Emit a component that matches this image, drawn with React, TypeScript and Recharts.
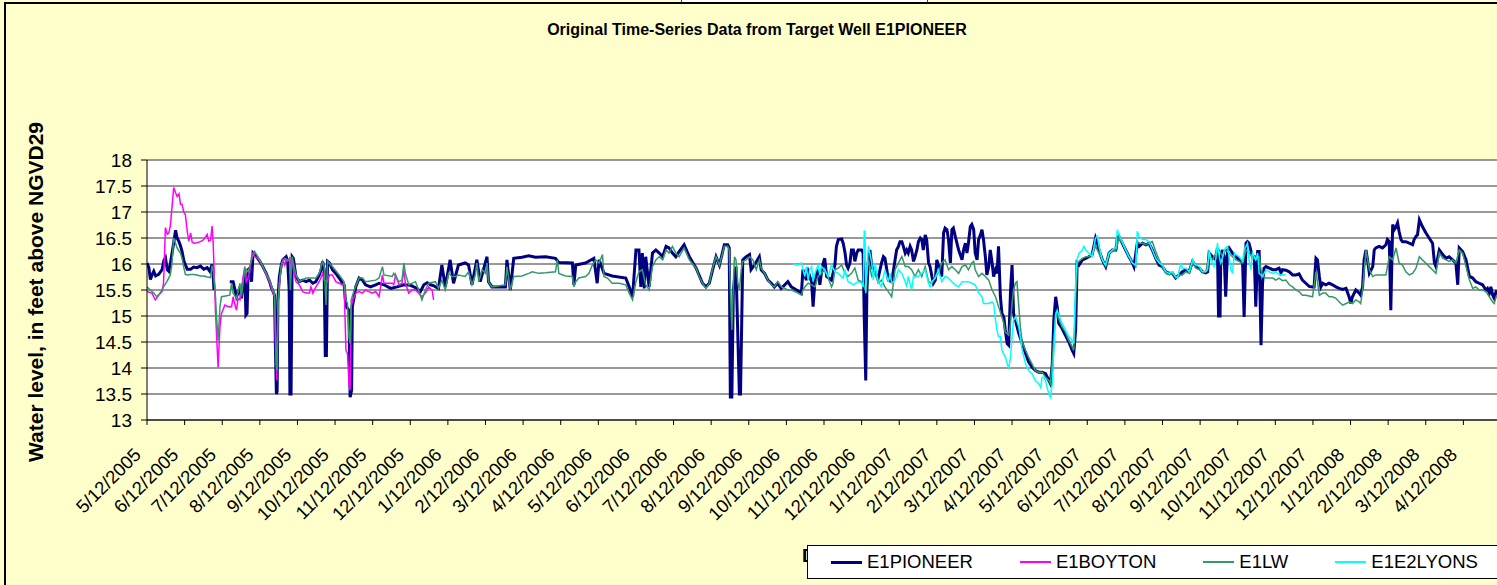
import { CartesianGrid, Line, LineChart, XAxis, YAxis } from "recharts";

type Pt = [number, number | null];

const FONT = "'Liberation Sans', Arial, sans-serif";

// x = months after 5/12/2005 (the axis is spaced evenly by month)
const monthLabels = [
  "5/12/2005", "6/12/2005", "7/12/2005", "8/12/2005", "9/12/2005", "10/12/2005",
  "11/12/2005", "12/12/2005", "1/12/2006", "2/12/2006", "3/12/2006", "4/12/2006",
  "5/12/2006", "6/12/2006", "7/12/2006", "8/12/2006", "9/12/2006", "10/12/2006",
  "11/12/2006", "12/12/2006", "1/12/2007", "2/12/2007", "3/12/2007", "4/12/2007",
  "5/12/2007", "6/12/2007", "7/12/2007", "8/12/2007", "9/12/2007", "10/12/2007",
  "11/12/2007", "12/12/2007", "1/12/2008", "2/12/2008", "3/12/2008", "4/12/2008",
];
const monthTicks = monthLabels.map((_, i) => i);
const levelTicks = [13, 13.5, 14, 14.5, 15, 15.5, 16, 16.5, 17, 17.5, 18];

const e1Pioneer: Pt[] = [
  [0, 16.02], [0.05, 15.93], [0.09, 15.7], [0.14, 15.8], [0.18, 15.86], [0.23, 15.77], [0.31, 15.8],
  [0.4, 15.89], [0.45, 16.07], [0.49, 16.12], [0.54, 15.89], [0.58, 15.86], [0.62, 16.0], [0.71, 16.41],
  [0.76, 16.65], [0.8, 16.5], [0.85, 16.43], [0.89, 16.35], [0.93, 16.25], [0.98, 16.06], [1.07, 15.9],
  [1.16, 15.9], [1.24, 15.94], [1.33, 15.93], [1.42, 15.96], [1.51, 15.9], [1.6, 15.93], [1.67, 15.86],
  [1.73, 15.99], [1.76, 15.8], [1.78, 15.5], [2.0, null],
  [2.2, 15.66], [2.29, 15.66], [2.38, 15.37], [2.42, 15.44], [2.47, 15.56], [2.51, 15.34], [2.56, 15.63],
  [2.6, 15.82], [2.63, 15.02], [2.66, 15.05], [2.69, 15.89], [2.73, 15.92], [2.78, 15.66], [2.82, 16.21],
  [2.91, 16.14], [3.0, 16.05], [3.08, 15.95], [3.17, 15.82], [3.26, 15.66], [3.3, 15.56], [3.35, 15.47],
  [3.39, 15.4], [3.42, 14.2], [3.44, 13.5], [3.46, 13.55], [3.48, 15.31], [3.52, 15.76], [3.57, 15.98],
  [3.61, 16.08], [3.7, 16.14], [3.74, 16.05], [3.78, 15.5], [3.8, 13.5], [3.83, 13.5], [3.86, 16.14],
  [3.89, 16.11], [3.96, 15.76], [4.05, 15.66], [4.14, 15.69], [4.23, 15.66], [4.32, 15.69], [4.41, 15.63],
  [4.49, 15.66], [4.58, 15.79], [4.63, 15.89], [4.67, 16.05], [4.71, 15.89], [4.74, 14.24], [4.77, 14.24],
  [4.8, 16.05], [4.85, 16.02], [4.93, 15.89], [5.02, 15.82], [5.11, 15.73], [5.2, 15.63], [5.24, 15.6],
  [5.29, 15.18], [5.33, 15.15], [5.37, 15.11], [5.4, 13.44], [5.44, 13.57], [5.46, 15.18], [5.51, 15.37],
  [5.55, 15.56], [5.64, 15.73], [5.73, 15.69], [5.81, 15.6], [5.94, 15.56], [6.08, 15.6], [6.17, 15.63],
  [6.3, 15.6], [6.48, 15.53], [6.65, 15.56], [6.83, 15.6], [7.01, 15.59], [7.18, 15.53], [7.27, 15.47],
  [7.36, 15.6], [7.45, 15.64], [7.54, 15.6], [7.63, 15.58],
  [7.75, 15.53], [7.84, 15.98], [7.93, 15.56], [8.06, 16.08], [8.15, 15.63], [8.28, 15.98], [8.46, 16.02],
  [8.55, 15.98], [8.64, 15.6], [8.77, 16.08], [8.86, 15.66], [9.04, 16.14], [9.08, 15.66], [9.17, 15.56],
  [9.53, 15.56], [9.57, 16.08], [9.66, 15.5], [9.75, 16.11], [9.97, 16.13], [10.15, 16.16], [10.33, 16.13],
  [10.6, 16.14], [10.86, 16.11], [10.95, 16.03], [11.31, 16.02], [11.35, 15.6], [11.4, 15.98], [11.66, 16.02],
  [11.88, 16.11], [11.97, 15.63], [12.02, 16.08], [12.15, 15.82], [12.37, 15.77], [12.73, 15.73], [12.82, 15.56],
  [12.91, 15.37], [13.0, 16.27], [13.08, 16.27], [13.13, 15.56], [13.17, 16.21], [13.22, 15.53], [13.26, 16.14],
  [13.35, 15.56], [13.44, 16.21], [13.53, 16.27], [13.62, 16.21], [13.71, 16.14], [13.8, 16.34], [13.88, 16.31],
  [13.97, 16.21], [14.06, 16.14], [14.15, 16.24], [14.28, 16.37], [14.42, 16.14], [14.6, 15.92], [14.77, 15.63],
  [14.86, 15.56], [14.95, 15.63], [15.04, 15.89], [15.13, 16.14], [15.22, 15.98], [15.35, 16.37], [15.44, 16.37],
  [15.48, 16.31], [15.51, 13.44], [15.55, 13.44], [15.59, 15.5], [15.66, 15.95], [15.75, 13.5], [15.78, 13.5],
  [15.84, 16.08], [15.93, 16.14], [16.02, 16.18], [16.06, 15.89], [16.15, 15.98], [16.28, 16.14], [16.33, 15.89],
  [16.42, 15.82], [16.51, 15.69], [16.6, 15.63], [16.68, 15.56], [16.77, 15.63], [16.86, 15.53],
  [17.04, 15.66], [17.13, 15.56], [17.27, 15.5], [17.4, 15.44], [17.44, 15.89], [17.49, 15.79], [17.53, 15.69],
  [17.58, 15.85], [17.62, 15.76], [17.67, 15.66], [17.71, 15.18], [17.76, 15.69], [17.84, 15.89], [17.89, 15.6],
  [17.93, 15.82], [17.98, 16.02], [18.02, 16.11], [18.07, 15.76], [18.2, 15.69], [18.29, 15.98], [18.33, 16.34],
  [18.38, 16.47], [18.47, 16.48], [18.51, 16.4], [18.56, 16.21], [18.6, 15.98], [18.64, 15.92], [18.69, 16.02],
  [18.73, 16.27], [18.78, 16.27], [18.82, 16.05], [18.87, 16.21], [18.91, 16.27], [19.0, 16.27], [19.04, 16.21],
  [19.07, 14.98], [19.11, 13.76], [19.14, 15.5], [19.18, 16.08], [19.22, 16.27], [19.27, 15.95], [19.36, 15.82],
  [19.44, 15.73], [19.53, 16.02], [19.58, 16.14], [19.62, 16.11], [19.67, 15.89], [19.71, 15.69], [19.8, 15.66],
  [19.89, 16.08], [19.93, 16.27], [19.98, 16.34], [20.02, 16.43], [20.07, 16.43], [20.11, 16.34], [20.16, 16.21],
  [20.2, 16.27], [20.24, 16.21], [20.29, 16.34], [20.33, 16.27], [20.38, 16.05], [20.42, 16.14], [20.47, 16.27],
  [20.51, 16.43], [20.56, 16.5], [20.6, 16.47], [20.64, 16.27], [20.69, 16.56], [20.73, 16.47], [20.78, 16.02],
  [20.82, 15.95], [20.87, 15.76], [20.91, 15.63], [20.96, 15.69], [21.0, 16.08], [21.04, 15.98], [21.13, 15.76],
  [21.18, 16.6], [21.22, 16.69], [21.27, 16.66], [21.31, 16.47], [21.36, 16.02], [21.4, 16.66], [21.44, 16.69],
  [21.49, 16.53], [21.58, 16.27], [21.67, 16.08], [21.71, 16.27], [21.76, 16.4], [21.8, 16.21], [21.84, 16.4],
  [21.89, 16.72], [21.93, 16.76], [21.98, 16.66], [22.02, 16.21], [22.07, 16.08], [22.11, 16.47], [22.16, 16.56],
  [22.2, 16.66], [22.24, 16.47], [22.29, 16.14], [22.33, 15.79], [22.38, 15.95], [22.42, 16.27], [22.47, 16.02],
  [22.51, 15.76], [22.56, 15.89], [22.6, 15.82], [22.64, 16.34], [22.69, 15.37], [22.73, 15.05], [22.78, 14.98],
  [22.82, 14.73], [22.87, 14.47], [22.91, 14.44], [22.96, 15.5], [23.0, 15.98], [23.04, 15.05], [23.09, 14.92],
  [23.18, 14.66], [23.27, 14.47], [23.36, 14.28], [23.44, 14.12], [23.53, 14.02], [23.62, 13.95], [23.71, 13.92],
  [23.8, 13.92], [23.89, 13.89], [23.98, 13.76], [24.02, 13.7], [24.07, 14.08], [24.11, 14.92], [24.16, 15.37],
  [24.2, 15.18], [24.24, 14.86], [24.33, 14.76], [24.42, 14.63], [24.51, 14.5], [24.6, 14.34], [24.64, 14.28],
  [24.69, 14.73], [24.73, 16.02], [24.78, 15.98], [24.87, 16.08], [24.96, 16.11], [25.04, 16.14], [25.13, 16.18],
  [25.22, 16.5], [25.27, 16.4], [25.31, 16.27], [25.4, 16.08], [25.49, 15.95], [25.58, 16.21], [25.67, 16.27],
  [25.76, 16.27], [25.8, 16.5], [25.84, 16.53], [25.93, 16.4], [26.02, 16.27], [26.11, 16.14], [26.2, 16.02],
  [26.24, 15.95], [26.33, 16.4], [26.38, 16.34], [26.47, 16.4], [26.56, 16.37], [26.64, 16.4], [26.73, 16.27],
  [26.82, 16.11], [26.91, 15.98],
  [27.0, 15.95], [27.09, 15.85], [27.18, 15.82], [27.27, 15.82], [27.31, 15.77], [27.35, 15.73], [27.44, 15.79],
  [27.53, 15.85], [27.62, 15.89], [27.71, 15.85], [27.8, 16.05], [27.89, 15.95], [27.98, 15.92], [28.06, 15.85],
  [28.15, 15.83], [28.2, 15.85], [28.24, 16.21], [28.33, 16.14], [28.42, 16.08], [28.46, 16.31], [28.49, 15.0],
  [28.53, 15.0], [28.55, 16.14], [28.6, 16.27], [28.64, 16.14], [28.68, 15.37], [28.73, 16.27], [28.77, 16.31],
  [28.86, 16.21], [28.95, 16.14], [29.04, 16.08], [29.13, 16.02], [29.17, 14.98], [29.22, 16.4], [29.26, 16.43],
  [29.3, 16.4], [29.39, 16.14], [29.44, 16.14], [29.48, 15.18], [29.53, 16.24], [29.57, 16.24], [29.62, 14.44],
  [29.66, 15.63], [29.7, 15.92], [29.75, 15.95], [29.84, 15.92], [29.93, 15.89], [30.01, 15.89], [30.1, 15.92],
  [30.15, 15.83], [30.19, 15.89], [30.28, 15.88], [30.37, 15.85], [30.46, 15.79], [30.55, 15.79], [30.63, 15.81],
  [30.72, 15.69], [30.81, 15.63], [30.9, 15.57], [30.99, 15.56], [31.03, 15.56], [31.08, 16.11], [31.12, 16.08],
  [31.17, 15.76], [31.21, 15.56], [31.26, 15.63], [31.34, 15.6], [31.43, 15.63], [31.52, 15.6], [31.61, 15.56],
  [31.7, 15.53], [31.79, 15.51], [31.88, 15.53], [31.96, 15.37], [32.01, 15.24], [32.05, 15.37], [32.14, 15.5],
  [32.23, 15.44], [32.27, 15.4], [32.32, 15.56], [32.36, 16.08], [32.41, 16.27], [32.45, 16.08], [32.5, 15.82],
  [32.59, 15.95], [32.63, 16.27], [32.67, 16.31], [32.76, 16.34], [32.85, 16.31], [32.94, 16.37], [32.98, 16.47],
  [33.03, 16.43], [33.07, 15.11], [33.12, 16.76], [33.16, 16.66], [33.21, 16.72], [33.25, 16.79], [33.29, 16.63],
  [33.34, 16.47], [33.38, 16.43], [33.47, 16.43], [33.56, 16.4], [33.65, 16.37], [33.69, 16.47], [33.74, 16.53],
  [33.78, 16.56], [33.83, 16.85], [33.91, 16.72], [34.0, 16.6], [34.09, 16.5], [34.18, 16.4], [34.23, 16.02],
  [34.27, 15.95], [34.36, 16.27], [34.45, 16.18], [34.54, 16.11], [34.62, 16.14], [34.71, 16.08], [34.8, 16.02],
  [34.85, 15.6], [34.89, 16.31], [34.98, 16.24], [35.07, 16.08], [35.16, 15.76], [35.25, 15.73], [35.33, 15.66],
  [35.42, 15.63], [35.51, 15.6], [35.6, 15.5], [35.64, 15.53], [35.69, 15.44], [35.73, 15.56], [35.78, 15.4],
  [35.82, 15.34], [35.87, 15.47], [35.96, 15.47],
];

const e1Boyton: Pt[] = [
  [0, 15.47], [0.13, 15.44], [0.22, 15.31], [0.31, 15.4], [0.4, 15.47], [0.44, 15.63], [0.49, 16.7],
  [0.54, 16.57], [0.58, 16.6], [0.62, 16.73], [0.71, 17.47], [0.76, 17.37], [0.8, 17.3], [0.85, 17.35],
  [0.89, 17.15], [0.93, 17.15], [0.98, 16.99], [1.02, 16.95], [1.07, 16.63], [1.11, 16.44], [1.16, 16.6],
  [1.2, 16.42], [1.24, 16.4], [1.33, 16.41], [1.42, 16.43], [1.51, 16.47], [1.6, 16.57], [1.64, 16.44],
  [1.69, 16.46], [1.73, 16.73], [1.76, 16.4], [1.82, 15.1], [1.89, 14.01], [1.94, 14.8], [1.98, 15.05],
  [2.07, 15.21], [2.16, 15.18], [2.25, 15.18], [2.29, 15.37], [2.34, 15.21], [2.38, 15.11], [2.42, 15.34],
  [2.47, 15.31], [2.56, 15.76], [2.6, 15.95], [2.64, 15.66], [2.69, 15.73], [2.73, 15.85], [2.78, 16.14],
  [2.82, 16.21], [2.86, 16.14], [2.95, 16.11], [3.08, 15.95], [3.17, 15.79], [3.26, 15.66], [3.35, 15.44],
  [3.39, 15.37], [3.42, 14.34], [3.45, 13.76], [3.48, 15.18], [3.52, 15.63], [3.57, 15.95], [3.61, 16.08],
  [3.66, 15.98], [3.7, 16.08], [3.74, 16.05], [3.79, 16.11], [3.83, 15.98], [3.86, 16.08], [3.91, 15.82],
  [3.96, 15.66], [4.05, 15.6], [4.14, 15.47], [4.23, 15.44], [4.32, 15.44], [4.36, 15.56], [4.41, 15.44],
  [4.49, 15.56], [4.58, 15.66], [4.67, 15.82], [4.71, 15.69], [4.8, 15.66], [4.85, 15.79], [4.93, 15.79],
  [5.02, 15.66], [5.11, 15.63], [5.2, 15.6], [5.24, 15.63], [5.29, 14.34], [5.33, 14.28], [5.37, 13.7],
  [5.4, 13.57], [5.43, 15.18], [5.47, 15.31], [5.51, 15.37], [5.55, 15.44], [5.64, 15.47], [5.73, 15.44],
  [5.81, 15.5], [5.9, 15.47], [5.99, 15.44], [6.08, 15.47], [6.17, 15.37], [6.26, 15.79], [6.3, 15.63],
  [6.52, 15.63], [6.56, 15.6], [6.61, 15.79], [6.7, 15.6], [6.78, 15.63], [6.83, 15.89], [6.87, 15.63],
  [6.96, 15.44], [7.05, 15.5], [7.14, 15.5], [7.22, 15.44], [7.31, 15.37], [7.4, 15.44], [7.49, 15.56],
  [7.58, 15.5], [7.62, 15.31],
];

const e1Lw: Pt[] = [
  [0, 15.56], [0.09, 15.5], [0.18, 15.44], [0.26, 15.37], [0.35, 15.44], [0.44, 15.56], [0.53, 15.66],
  [0.62, 15.79], [0.66, 15.98], [0.71, 16.5], [0.76, 16.4], [0.8, 16.31], [0.85, 16.25], [0.89, 16.21],
  [0.93, 16.11], [0.98, 15.93], [1.02, 15.8], [1.07, 15.79], [1.16, 15.8], [1.24, 15.8], [1.33, 15.79],
  [1.42, 15.77], [1.51, 15.77], [1.6, 15.75], [1.69, 15.74], [1.73, 15.97], [1.76, 15.87], [1.81, 15.5],
  [1.85, 14.98], [1.89, 14.53], [1.94, 15.18], [1.98, 15.37], [2.2, 15.4], [2.25, 15.63], [2.29, 15.44],
  [2.38, 15.34], [2.47, 15.63], [2.51, 15.37], [2.56, 15.66], [2.6, 15.92], [2.69, 15.85], [2.78, 16.08],
  [2.86, 16.24], [3.0, 16.08], [3.08, 15.95], [3.17, 15.82], [3.26, 15.69], [3.35, 15.5], [3.39, 15.44],
  [3.44, 14.08], [3.46, 13.95], [3.49, 15.31], [3.52, 15.63], [3.57, 15.98], [3.66, 16.11], [3.74, 16.08],
  [3.79, 16.11], [3.81, 15.5], [3.86, 16.14], [3.89, 16.02], [3.96, 15.79], [4.05, 15.66], [4.23, 15.73],
  [4.49, 15.73], [4.58, 15.82], [4.67, 16.05], [4.71, 15.95], [4.76, 15.21], [4.8, 16.05], [4.93, 15.95],
  [5.11, 15.79], [5.24, 15.66], [5.29, 15.31], [5.33, 15.24], [5.37, 14.6], [5.4, 14.47], [5.43, 15.31],
  [5.51, 15.5], [5.64, 15.73], [5.73, 15.73], [5.81, 15.66], [6.08, 15.69], [6.17, 15.73], [6.26, 15.95],
  [6.3, 15.79], [6.52, 15.76], [6.56, 15.82], [6.7, 15.66], [6.78, 15.69], [6.83, 16.02], [6.87, 15.82],
  [6.96, 15.6], [7.14, 15.66], [7.22, 15.5], [7.31, 15.31], [7.4, 15.5], [7.49, 15.63], [7.67, 15.66],
  [7.75, 15.53], [7.84, 15.69], [7.93, 15.5], [8.02, 15.82], [8.11, 15.76], [8.2, 15.76], [8.28, 15.79],
  [8.46, 15.76], [8.55, 15.85], [8.64, 15.6], [8.73, 15.79], [8.77, 16.02], [8.82, 15.66], [8.91, 15.89],
  [9.0, 15.82], [9.04, 16.02], [9.08, 15.66], [9.17, 15.56], [9.53, 15.6], [9.57, 15.95], [9.66, 15.5],
  [9.75, 15.76], [9.97, 15.77], [10.15, 15.82], [10.24, 15.85], [10.42, 15.82], [10.6, 15.83], [10.86, 15.85],
  [10.91, 16.08], [10.95, 15.82], [11.13, 15.77], [11.31, 15.76], [11.35, 15.56], [11.4, 15.66], [11.48, 15.73],
  [11.66, 15.76], [11.75, 15.82], [11.84, 15.98], [11.93, 16.08], [12.02, 16.02], [12.11, 16.18], [12.15, 15.76],
  [12.24, 15.73], [12.37, 15.63], [12.55, 15.63], [12.73, 15.6], [12.82, 15.44], [12.91, 15.31], [13.0, 15.66],
  [13.08, 15.85], [13.17, 15.89], [13.26, 15.6], [13.35, 15.5], [13.44, 15.95], [13.53, 16.08], [13.62, 16.14],
  [13.71, 16.08], [13.8, 16.27], [13.88, 16.21], [13.97, 16.34], [14.06, 16.21], [14.15, 16.14], [14.28, 16.31],
  [14.42, 16.08], [14.6, 15.92], [14.68, 15.76], [14.77, 15.63], [14.86, 15.53], [14.95, 15.63], [15.04, 15.92],
  [15.13, 16.14], [15.22, 15.98], [15.35, 16.34], [15.44, 16.34], [15.48, 16.27], [15.51, 15.5], [15.55, 14.73],
  [15.59, 15.63], [15.62, 16.14], [15.66, 16.08], [15.71, 15.63], [15.75, 15.5], [15.8, 15.89], [15.84, 16.05],
  [15.93, 16.08], [16.02, 16.14], [16.11, 16.08], [16.2, 15.89], [16.28, 16.08], [16.33, 15.92], [16.42, 15.82],
  [16.51, 15.69], [16.6, 15.6], [16.68, 15.56], [16.77, 15.66],
  [16.87, 15.56], [16.96, 15.53], [17.04, 15.5], [17.13, 15.5], [17.22, 15.47], [17.31, 15.44], [17.4, 15.4],
  [17.44, 15.5], [17.49, 15.56], [17.58, 15.63], [17.67, 15.6], [17.76, 15.56], [17.84, 15.76], [17.93, 15.82],
  [18.02, 15.89], [18.11, 15.73], [18.2, 15.56], [18.24, 15.63], [18.29, 15.89], [18.38, 15.92], [18.47, 15.98],
  [18.56, 15.82], [18.64, 15.76], [18.73, 15.82], [18.82, 15.92], [18.91, 15.69], [19.0, 15.66], [19.04, 15.63],
  [19.09, 15.5], [19.18, 16.08], [19.27, 15.76], [19.36, 15.82], [19.44, 15.63], [19.53, 15.69], [19.62, 15.56],
  [19.71, 15.47], [19.8, 15.37], [19.89, 15.89], [19.98, 16.02], [20.07, 16.14], [20.16, 15.95], [20.24, 15.95],
  [20.33, 15.89], [20.42, 15.76], [20.51, 15.89], [20.6, 15.76], [20.69, 15.95], [20.78, 15.66], [20.87, 15.63],
  [20.96, 15.76], [21.04, 15.82], [21.13, 16.02], [21.22, 16.08], [21.31, 15.89], [21.4, 15.95], [21.49, 15.89],
  [21.58, 15.82], [21.67, 15.95], [21.76, 15.98], [21.84, 15.89], [21.93, 16.02], [21.98, 16.05], [22.02, 15.89],
  [22.11, 15.76], [22.2, 15.82], [22.29, 15.76], [22.38, 15.69], [22.47, 15.5], [22.56, 15.37], [22.64, 15.18],
  [22.73, 14.98], [22.78, 14.86], [22.82, 14.69], [22.91, 14.63], [22.96, 14.86], [23.0, 15.24], [23.04, 15.5],
  [23.09, 15.63], [23.13, 15.66], [23.18, 15.18], [23.22, 14.79], [23.27, 14.5], [23.36, 14.34], [23.44, 14.21],
  [23.53, 14.08], [23.62, 13.95], [23.71, 13.92], [23.8, 13.92], [23.89, 13.82], [23.98, 13.76], [24.02, 13.7],
  [24.07, 14.15], [24.16, 15.05], [24.24, 14.95], [24.33, 14.79], [24.42, 14.69], [24.51, 14.53], [24.6, 14.4],
  [24.64, 14.34], [24.69, 15.31], [24.73, 16.02], [24.78, 16.05], [24.87, 16.11], [24.96, 16.14], [25.04, 16.14],
  [25.13, 16.21], [25.22, 16.34], [25.31, 16.21], [25.4, 16.08], [25.49, 15.95], [25.58, 16.21], [25.67, 16.24],
  [25.76, 16.27], [25.84, 16.5], [25.93, 16.4], [26.02, 16.27], [26.11, 16.14], [26.2, 16.02], [26.29, 15.95],
  [26.33, 16.43], [26.38, 16.4], [26.47, 16.4], [26.56, 16.37], [26.64, 16.4],
  [26.73, 16.43], [26.82, 16.24], [26.91, 16.08], [27.0, 15.95], [27.09, 15.82], [27.18, 15.79], [27.27, 15.82],
  [27.35, 15.73], [27.44, 15.79], [27.53, 15.79], [27.62, 15.85], [27.71, 15.82], [27.8, 16.02], [27.89, 15.92],
  [27.98, 15.89], [28.06, 15.85], [28.15, 15.85], [28.24, 16.14], [28.33, 16.08], [28.42, 16.21], [28.51, 16.27],
  [28.6, 16.14], [28.68, 16.27], [28.77, 16.21], [28.86, 16.14], [28.95, 16.08], [29.04, 16.05], [29.13, 16.02],
  [29.22, 16.27], [29.3, 16.21], [29.39, 16.14], [29.48, 16.08], [29.57, 16.14], [29.62, 15.89], [29.66, 15.76],
  [29.75, 15.73], [29.93, 15.73], [30.01, 15.69], [30.1, 15.73], [30.19, 15.68], [30.28, 15.69], [30.37, 15.6],
  [30.46, 15.56], [30.55, 15.5], [30.63, 15.47], [30.72, 15.4], [30.81, 15.4], [30.99, 15.37], [31.08, 15.85],
  [31.12, 15.66], [31.17, 15.4], [31.26, 15.44], [31.34, 15.44], [31.43, 15.37], [31.52, 15.37], [31.61, 15.34],
  [31.7, 15.27], [31.79, 15.21], [31.88, 15.24], [31.96, 15.27], [32.05, 15.24], [32.14, 15.31], [32.23, 15.27],
  [32.27, 15.24], [32.32, 15.5], [32.41, 16.27], [32.5, 15.89], [32.59, 15.76], [32.67, 15.79], [32.76, 15.79],
  [32.85, 15.79], [32.94, 15.79], [33.03, 16.14], [33.12, 16.08], [33.21, 16.31], [33.29, 16.02], [33.38, 15.98],
  [33.47, 15.85], [33.56, 15.79], [33.65, 15.82], [33.74, 15.92], [33.83, 16.14], [33.91, 16.08], [34.0, 16.02],
  [34.09, 15.95], [34.18, 15.89], [34.27, 15.82], [34.36, 16.21], [34.45, 16.11], [34.54, 16.08], [34.62, 16.05],
  [34.71, 16.08], [34.8, 16.02], [34.89, 16.27], [34.98, 16.21], [35.07, 15.95], [35.16, 15.69], [35.25, 15.53],
  [35.33, 15.56], [35.42, 15.5], [35.51, 15.5], [35.6, 15.47], [35.69, 15.37], [35.78, 15.27], [35.82, 15.24],
  [35.87, 15.37], [35.96, 15.34],
];

const e1e2Lyons: Pt[] = [
  [17.18, 16.0], [17.31, 15.98], [17.4, 16.02], [17.49, 15.76], [17.53, 15.95], [17.58, 15.69], [17.62, 15.89],
  [17.67, 15.95], [17.71, 15.66], [17.76, 15.82], [17.84, 15.98], [17.89, 15.79], [17.93, 15.95], [18.02, 15.89],
  [18.11, 15.76], [18.2, 15.98], [18.29, 15.85], [18.38, 15.82], [18.51, 15.73], [18.56, 15.89], [18.6, 15.76],
  [18.64, 15.66], [18.73, 15.63], [18.78, 15.6], [18.91, 15.66], [19.0, 15.63], [19.04, 15.56], [19.07, 16.63],
  [19.09, 16.63], [19.11, 15.44], [19.18, 16.34], [19.22, 16.21], [19.27, 16.02], [19.31, 15.69], [19.36, 16.02],
  [19.4, 15.82], [19.44, 15.66], [19.53, 15.56], [19.58, 15.76], [19.62, 15.89], [19.67, 15.76], [19.71, 15.66],
  [19.76, 15.82], [19.8, 15.63], [19.89, 15.69], [19.98, 15.89], [20.07, 15.82], [20.16, 15.66], [20.2, 15.56],
  [20.24, 15.76], [20.33, 15.5], [20.38, 15.76], [20.51, 15.76], [20.6, 15.82], [20.69, 15.89], [20.78, 15.63],
  [20.82, 15.56], [20.87, 15.66], [20.96, 15.73], [21.04, 15.89], [21.13, 15.66], [21.22, 15.76], [21.31, 15.73],
  [21.4, 15.66], [21.49, 15.6], [21.58, 15.56], [21.67, 15.66], [21.76, 15.66], [21.84, 15.66], [21.93, 15.63],
  [22.02, 15.6], [22.11, 15.44], [22.2, 15.37], [22.24, 15.24], [22.38, 15.24], [22.47, 15.27], [22.51, 15.24],
  [22.56, 14.92], [22.6, 14.73], [22.64, 14.6], [22.69, 14.6], [22.73, 14.34], [22.82, 14.21], [22.91, 13.99],
  [22.96, 14.21], [23.0, 14.6], [23.04, 14.92], [23.09, 14.98], [23.18, 14.79], [23.27, 14.34], [23.36, 14.08],
  [23.44, 13.95], [23.53, 13.89], [23.62, 13.76], [23.71, 13.7], [23.76, 13.63], [23.8, 13.82], [23.84, 13.82],
  [23.89, 13.76], [23.93, 13.63], [23.98, 13.5], [24.02, 13.44], [24.07, 13.7], [24.11, 14.34], [24.16, 15.02],
  [24.2, 15.11], [24.24, 15.02], [24.33, 14.86], [24.42, 14.73], [24.51, 14.6], [24.6, 14.53], [24.64, 14.47],
  [24.69, 15.63], [24.73, 16.08], [24.78, 16.21], [24.87, 16.27], [24.91, 16.34], [24.96, 16.27], [25.04, 16.21],
  [25.13, 16.14], [25.22, 16.5], [25.27, 16.53], [25.31, 16.34], [25.4, 16.08], [25.49, 15.98], [25.58, 16.21],
  [25.67, 16.27], [25.76, 16.31], [25.8, 16.66], [25.84, 16.56], [25.93, 16.43], [26.02, 16.27], [26.11, 16.14],
  [26.2, 16.02], [26.29, 15.98], [26.33, 16.63], [26.38, 16.53], [26.42, 16.5], [26.47, 16.47], [26.56, 16.47],
  [26.64, 16.43], [26.73, 16.27], [26.82, 16.11], [26.91, 16.02],
  [27.0, 15.98], [27.09, 15.85], [27.18, 15.82], [27.27, 15.85], [27.31, 15.79], [27.35, 15.76], [27.4, 15.73],
  [27.49, 16.02], [27.53, 15.92], [27.62, 15.92], [27.71, 15.85], [27.8, 16.08], [27.84, 16.02], [27.89, 15.98],
  [27.98, 15.95], [28.06, 15.85], [28.15, 15.85], [28.2, 15.89], [28.24, 16.27], [28.29, 16.08], [28.33, 16.02],
  [28.37, 15.95], [28.42, 16.11], [28.46, 16.4], [28.51, 16.14], [28.55, 16.02], [28.6, 16.14], [28.64, 16.27],
  [28.68, 16.31], [28.73, 16.34], [28.77, 16.14], [28.82, 15.89], [28.86, 15.82], [28.91, 16.21], [28.95, 16.18],
  [29.04, 16.14], [29.13, 16.05], [29.17, 16.27], [29.22, 16.34], [29.26, 16.4], [29.3, 16.08], [29.35, 15.89],
  [29.39, 16.21], [29.44, 16.14], [29.48, 16.08], [29.53, 16.21], [29.55, 16.02], [29.57, 15.82], [29.66, 15.76],
  [29.75, 15.89], [29.84, 15.85], [29.93, 15.82], [30.01, 15.85], [30.1, 15.79], [30.19, 15.8], [30.28, 15.79],
];

const seriesInfo = [
  { name: "E1PIONEER", pts: e1Pioneer, color: "#000080", width: 3 },
  { name: "E1BOYTON", pts: e1Boyton, color: "#FF00FF", width: 1.5 },
  { name: "E1LW", pts: e1Lw, color: "#339966", width: 1.5 },
  { name: "E1E2LYONS", pts: e1e2Lyons, color: "#00FFFF", width: 1.5 },
];

function MonthTick(props: any) {
  const { x, y, payload } = props;
  const label = monthLabels[payload.value];
  if (!label) return <g />;
  const ax = x - 5;
  const ay = y + 31;
  return (
    <text
      x={ax}
      y={ay}
      transform={`rotate(-45 ${ax} ${ay})`}
      textAnchor="end"
      fill="#000"
      fontSize={18.5}
      fontFamily={FONT}
    >
      {label}
    </text>
  );
}

export default function App() {
  return (
    <div
      style={{
        position: "absolute",
        left: 0,
        top: 0,
        width: 1497,
        height: 585,
        overflow: "hidden",
        background: "#FFFFCC",
        fontFamily: FONT,
      }}
    >
      {/* sheet cell and chart frame edges */}
      <div style={{ position: "absolute", left: 681, top: 0, width: 245, height: 2, background: "#fff", borderLeft: "1px solid #444", borderRight: "1px solid #444" }} />
      <div style={{ position: "absolute", left: 4, top: 2, width: 1600, height: 700, borderLeft: "2px solid #000", borderTop: "2px solid #000" }} />

      <div style={{ position: "absolute", left: 0, top: 0 }}>
        <LineChart width={1510} height={585} margin={{ top: 160, right: 9, bottom: 45, left: 0 }}>
          <CartesianGrid vertical={false} stroke="#333" fill="#fff" />
          <XAxis
            type="number"
            dataKey="t"
            domain={[0, 36]}
            ticks={monthTicks}
            interval={0}
            height={120}
            tickSize={5}
            tickMargin={0}
            allowDataOverflow
            axisLine={{ stroke: "#000" }}
            tickLine={{ stroke: "#000" }}
            tick={(p: any) => <MonthTick {...p} />}
          />
          <YAxis
            type="number"
            domain={[13, 18]}
            ticks={levelTicks}
            interval={0}
            width={147}
            tickSize={6}
            tickMargin={9}
            axisLine={{ stroke: "#000" }}
            tickLine={{ stroke: "#000" }}
            tick={{ fill: "#000", fontSize: 19, fontFamily: FONT }}
          />
          {seriesInfo.map((s) => (
            <Line
              key={s.name}
              name={s.name}
              data={s.pts.map(([t, v]) => ({ t, v }))}
              dataKey="v"
              type="linear"
              stroke={s.color}
              strokeWidth={s.width}
              dot={false}
              activeDot={false}
              isAnimationActive={false}
            />
          ))}
        </LineChart>
      </div>

      <svg width={1497} height={585} style={{ position: "absolute", left: 0, top: 0 }}>
        <text x={757} y={35} textAnchor="middle" fontWeight="bold" fontSize={16} fontFamily={FONT} fill="#000">
          Original Time-Series Data from Target Well E1PIONEER
        </text>
        <text x={43} y={292} transform="rotate(-90 43 292)" textAnchor="middle" fontWeight="bold" fontSize={21} fontFamily={FONT} fill="#000">
          Water level, in feet above NGVD29
        </text>
        <text x={802} y={562} fontWeight="bold" fontSize={19} fontFamily={FONT} fill="#000">
          Date
        </text>
      </svg>

      <div
        style={{
          position: "absolute",
          left: 807,
          top: 545,
          width: 760,
          height: 32,
          border: "1px solid #000",
          background: "#fff",
          display: "flex",
          alignItems: "center",
          paddingLeft: 23,
          fontSize: 18.5,
          color: "#000",
        }}
      >
        {seriesInfo.map((s) => (
          <div key={s.name} style={{ display: "flex", alignItems: "center", marginRight: 47 }}>
            <span style={{ display: "inline-block", width: 31, height: s.width < 2 ? 2 : s.width, background: s.color, marginRight: 5 }} />
            <span style={{ lineHeight: 1 }}>{s.name}</span>
          </div>
        ))}
      </div>
    </div>
  );
}
